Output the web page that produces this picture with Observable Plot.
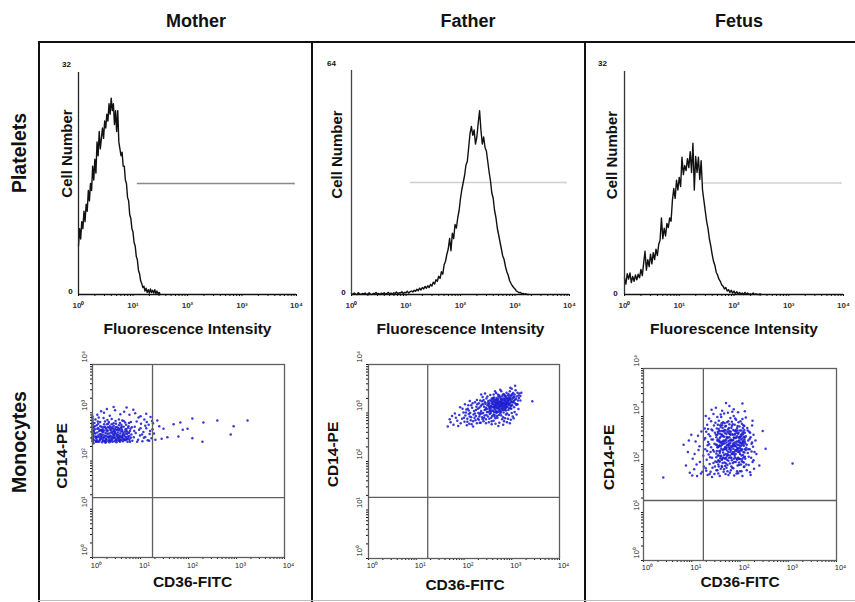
<!DOCTYPE html>
<html><head><meta charset="utf-8">
<script src="https://cdn.jsdelivr.net/npm/d3@7"></script>
<script src="https://cdn.jsdelivr.net/npm/@observablehq/plot@0.6"></script>
<style>
html,body{margin:0;padding:0;background:#fff;}
#fig{position:relative;width:855px;height:602px;overflow:hidden;font-family:"Liberation Sans",Arial,sans-serif;background:#fff;}
.lbl{position:absolute;white-space:nowrap;font-weight:bold;line-height:1;color:#111;}
.ln{position:absolute;background:#111;}
.panel{position:absolute;}
.panel svg{background:transparent;overflow:visible;}
</style></head><body><div id="fig"></div>
<script>
// ---------- DATA ----------
const columns = ["Mother", "Father", "Fetus"];
const rows = ["Platelets", "Monocytes"];
const decadeTicks = [1, 10, 100, 1000, 10000];
const decadeLabels = ["10\u2070", "10\u00b9", "10\u00b2", "10\u00b3", "10\u2074"];
const histMax = [32, 64, 32];
const histTopLabels = ["32", "64", "32"];
const histStartLog = [0, 0, 0];      // first channel, log10 units
const histStepLog = [0.02, 0.025, 0.025]; // channel width, log10 units
const motherCounts = [7,9.5,8,10.5,9.5,12,10.5,13,12,15,13.5,16,15,18.5,16.5,19.5,17.5,22,20,23.5,21,22.5,24,22.5,25,24,26,25,27.5,26,28.3,26.5,27.5,24.5,26.5,23.5,26.5,22,21,20,20.5,18.5,18.5,16.5,16,14,13.5,11.5,11,9.5,9,7.5,7,5.5,5,3.5,3,2,1.6,1,1.2,0.5,0.9,0.3,0.7,0.2,0.8,0.3,0.6,0.2,0.7,0.1,0.5,0.1,0.3,0];
const fatherCounts = [0.3,0,0.4,0.1,0,0.5,0.2,0,0.3,0.1,0.4,0,0.2,0.5,0.1,0,0.3,0.2,0.6,0.1,0.3,0,0.4,0.2,0.5,0.1,0.3,0.6,0.2,0.4,0.1,0.5,0.3,0.7,0.2,0.5,0.4,0.8,0.3,0.6,0.5,0.9,0.4,0.8,1.0,
 0.7,1.2,0.9,1.5,1.1,1.8,1.3,2.0,1.6,2.3,1.8,2.5,2.0,2.9,2.4,3.5,3.0,4.2,3.8,5.2,4.6,6.5,5.8,8.5,9.5,11.5,13,16,12.5,17.5,16,20,19,22,24,27.5,30,32,34,37,38,42,46,48,45.5,47,43,45,49,52.5,47,43,45,42,41,38,35,32.5,29,27.5,24,22,19,17,15,13,11,10,8,6.5,5.5,4,3.2,2.5,2,1.6,1.0,0.8,0.5,0.6,0.2,0.3,0.1,0.2,0,0];
const fetusCounts = [2.4,1.5,3.0,2.2,3.1,1.7,2.6,1.9,2.8,2.1,2.9,2.4,3.6,2.7,4.5,6.2,3.5,5.0,4.0,5.8,4.4,6.0,5.0,6.5,5.6,7.2,7.8,11,8.0,9.5,8.4,10.2,9.6,11,10.5,13.5,15.2,13.8,16.4,15,16.8,15.5,19.7,17.2,18.5,17.8,19.5,18.2,20.5,17.5,21.7,15,19.8,17.5,19.7,16.5,19.2,15,13.5,12,10.5,9.5,8,7,5.8,4.8,4.2,3.2,2.8,2.2,1.9,1.4,1.2,0.8,1.0,0.5,0.7,0.3,0.6,0.2,0.5,0.1,0.4,0.1,0.3,0,0.2,0,0.3,0,0.2,0,0.1,0,0.2,0,0.1,0,0,0.1,0];
const gateFrom = [12, 12, 27.5];
const gateTo = [8900, 8500, 8900];
const gateLevel = [16, 32, 16];
const quadX = [17.8, 17.4, 17.4];
const quadY = [17.4, 18.2, 17.8];
// dot plots: [CD36-FITC, CD14-PE] in hundredths of a decade (log10 x 100)
const motherDots = [[0,241],[0,248],[0,255],[0,262],[0,270],[0,276],[0,284],[0,292],[0,244],[0,258],[0,266],[0,280],[0,251],[0,288],[0,273],
[3,243],[7,251],[11,240],[14,262],[18,247],[21,255],[25,241],[28,268],[31,250],[35,244],[38,259],[42,240],[45,253],[48,246],[52,264],[55,242],[58,257],[61,249],[65,271],[68,243],
[72,256],[75,247],[78,262],[5,266],[9,274],[13,249],[16,281],[20,239],[23,270],[27,258],[30,276],[33,242],[37,265],[40,251],[44,278],[47,260],[50,239],[54,268],[57,252],[60,275],
[63,241],[67,261],[70,250],[74,269],[77,244],[81,255],[2,253],[6,286],[10,259],[15,243],[19,271],[22,248],[26,282],[29,245],[32,263],[36,272],[39,246],[43,267],[46,241],[49,277],
[53,250],[56,263],[59,244],[62,284],[66,254],[69,266],[73,240],[76,279],[80,248],[4,279],[8,246],[12,268],[17,256],[21,244],[24,263],[28,252],[31,285],[34,257],[38,241],[41,270],
[45,262],[48,283],[51,255],[55,274],[58,243],[61,266],[64,258],[68,280],[71,246],[75,272],[79,267],[83,242],[2,270],[7,240],[11,282],[15,265],[19,252],[23,289],[27,246],[30,261],
[34,281],[37,253],[41,244],[44,273],[48,257],[52,247],[55,286],[59,269],[62,252],[66,245],[70,275],[73,260],[77,252],[82,270],[6,257],[13,290],[18,263],[24,276],[29,240],[35,269],
[40,287],[46,249],[51,270],[57,279],[63,247],[69,257],[74,251],[80,281],[9,250],[16,272],[22,260],[26,241],[33,277],[39,263],[43,255],[50,264],[56,245],[65,283],[71,262],[78,240],
[1,246],[4,258],[8,241],[12,253],[16,245],[20,261],[24,249],[27,238],[31,256],[34,248],[37,242],[41,258],[44,247],[47,266],[51,243],[54,254],[57,240],[60,261],[3,262],[6,249],
[10,267],[14,240],[17,251],[21,266],[25,253],[28,244],[32,270],[36,250],[39,268],[42,249],[46,257],[50,252],[53,259],[58,249],[62,262],[64,244],[67,251],[70,266],[72,245],[76,258],
[2,237],[9,243],[15,255],[22,242],[29,264],[35,239],[43,261],[49,243],[56,266],[63,254],[5,272],[12,277],[19,264],[26,271],[33,251],[40,276],[48,270],[54,248],[61,271],[69,244],
[86,249],[88,271],[90,258],[92,282],[95,244],[97,265],[99,253],[101,277],[104,241],[106,260],[108,286],[110,250],[112,268],[115,243],[117,275],[119,256],[121,291],[123,247],[125,266],[87,262],
[93,240],[100,268],[107,248],[113,281],[120,262],[96,290],[103,255],[110,273],[118,242],[124,283],
[10,296],[24,300],[36,294],[47,305],[58,297],[66,302],[77,296],[89,299],[100,293],[44,312],[71,311],[30,308],[85,306],[18,303],[112,298],
[135,284],[148,267],[156,249],[169,276],[179,251],[183,280],[188,265],[198,267],[208,288],[208,247],[229,240],[231,280],[260,284],[288,255],[294,272],[323,284],
[128,257],[131,244],[139,272],[144,246],[126,278]];
const fatherDots = [[166,272],[172,281],[178,276],[183,290],[186,284],[190,296],[193,279],[196,288],[199,301],[175,294],[188,273],[197,309],[181,299],[170,287],[192,312],
[201,282],[203,295],[205,307],[207,288],[209,316],[211,278],[213,300],[215,291],[217,311],[219,283],[221,304],[223,322],[225,294],[227,279],[229,309],[202,318],[206,275],[210,298],[214,285],[218,320],
[222,290],[226,313],[204,301],[208,309],[212,293],[216,277],[220,297],[224,285],[228,318],[230,300],[200,290],[212,325],[219,272],[225,306],[229,288],[207,282],[223,299],[215,316],[227,327],[210,305],
[231,286],[232,311],[233,297],[234,326],[235,280],[236,304],[237,317],[238,291],[239,333],[240,300],[241,283],[242,313],[243,295],[244,322],[245,307],[246,287],[247,330],[248,302],[249,316],[250,293],
[251,325],[252,281],[253,309],[254,298],[255,337],[256,315],[257,290],[258,321],[259,304],[260,329],[231,320],[233,280],[235,314],[237,299],[239,287],[241,327],[243,306],[245,319],[247,296],[249,334],
[251,302],[253,288],[255,312],[257,326],[259,294],[234,300],[238,324],[242,290],[246,311],[250,321],[254,305],[258,283],[236,338],[244,340],[252,317],[256,300],[232,293],[248,308],[240,318],[260,312],
[261,318],[262,297],[263,332],[264,309],[265,322],[266,289],[267,341],[268,315],[269,303],[270,327],[271,311],[272,319],[273,296],[274,336],[275,314],[276,324],[277,302],[278,345],[279,318],[280,309],
[281,328],[282,291],[283,321],[284,313],[285,337],[286,306],[287,324],[288,316],[289,331],[290,299],[261,305],[263,323],[265,312],[267,327],[269,294],[271,338],[273,318],[275,303],[277,330],[279,312],
[281,320],[283,301],[285,326],[287,311],[289,342],[262,338],[264,293],[266,319],[268,331],[270,310],[272,329],[274,305],[276,316],[278,322],[280,334],[282,314],[284,326],[286,320],[288,305],[290,322],
[263,314],[267,302],[271,324],[275,333],[279,327],[283,339],[287,333],[265,345],[269,320],[273,312],[277,320],[281,310],[285,316],[289,320],[262,326],[268,311],[274,323],[280,317],[286,329],[276,348],
[291,313],[292,330],[293,339],[294,318],[295,327],[296,345],[297,310],[298,335],[299,322],[300,350],[301,316],[302,331],[303,341],[304,325],[305,312],[306,338],[307,320],[308,347],[309,329],[310,334],
[311,318],[312,342],[313,326],[314,336],[315,331],[291,325],[293,306],[295,336],[297,352],[299,315],[301,338],[303,322],[305,332],[307,356],[309,317],[292,318],[296,329],[300,328],[304,334],[294,332],
[298,324],[302,322],[306,327],[316,340],[318,335],[343,324],
[252,313],[254,326],[256,308],[258,330],[260,318],[262,312],[264,328],[266,306],[268,322],[270,316],[272,334],[274,314],[276,309],[278,328],[280,322],[282,306],[284,318],[286,335],[288,311],[290,328],
[292,322],[294,310],[296,320],[298,315],[300,338],[253,320],[257,314],[261,331],[265,317],[269,329],[273,307],[277,315],[281,337],[285,309],[289,314],[293,326],[297,331],[255,303],[259,323],[263,302],
[267,315],[271,302],[275,322],[279,305],[283,330],[287,318],[291,336],[295,316],[299,309],[270,321],
[262,284],[266,278],[270,290],[274,280],[278,295],[282,276],[286,289],[290,281],[294,296],[298,286],[302,293],[306,302],[310,297],[314,308],[264,296],[272,273],[280,287],[288,297],[296,279],[304,289],
[258,277],[276,299],[292,288],[300,300],[284,283],[268,300],[312,318],[318,326],[320,342],[246,279]];
const fetusDots = [[83,241],[88,198],[92,226],[96,183],[99,262],[102,212],[105,190],[108,248],[111,176],[114,230],[117,205],[120,269],[122,185],[124,218],[126,252],[41,173],[94,250],[101,177],[110,200],[116,238],[119,181],[125,196],[127,275],[113,260],[106,222],
[128,232],[129,192],[130,268],[131,210],[132,283],[133,178],[134,247],[135,221],[136,296],[137,201],[138,259],[139,185],[140,236],[141,273],[142,214],[143,193],[144,252],[145,305],[146,227],[147,180],
[148,266],[149,206],[150,241],[128,255],[130,187],[132,228],[134,274],[136,242],[138,215],[140,290],[142,174],[144,230],[146,281],[148,196],[150,262],[129,301],[133,240],[137,180],[141,252],[145,203],
[149,287],[135,263],[139,226],[143,271],[147,243],
[151,223],[152,275],[153,188],[154,252],[155,209],[156,291],[157,238],[158,176],[159,264],[160,217],[161,247],[162,197],[163,282],[164,230],[165,259],[166,185],[167,306],[168,244],[169,212],[170,271],
[171,233],[172,193],[173,288],[174,255],[175,220],[176,178],[177,265],[178,241],[179,202],[180,297],[151,257],[153,236],[155,181],[157,270],[159,228],[161,299],[163,211],[165,243],[167,190],[169,279],
[171,252],[173,218],[175,308],[177,236],[179,264],[152,205],[154,283],[156,248],[158,224],[160,191],[162,262],[164,276],[166,214],[168,232],[170,180],[172,258],[174,199],[176,249],[178,284],[180,226],
[151,188],[155,265],[159,246],[163,195],[167,258],[171,214],[175,273],[179,183],[153,299],[157,206],[161,233],[165,288],[169,197],[173,240],[177,214],[152,241],[158,255],[164,203],[170,250],[176,226],
[154,219],[160,278],[166,269],[172,235],[178,257],[156,196],[162,245],[168,286],[174,186],[180,245],
[181,268],[182,214],[183,237],[184,193],[185,284],[186,251],[187,222],[188,177],[189,262],[190,239],[191,205],[192,293],[193,248],[194,186],[195,271],[196,226],[197,256],[198,199],[199,279],[200,234],
[201,211],[202,262],[203,186],[204,245],[205,295],[206,220],[207,268],[208,195],[209,252],[210,232],[181,230],[183,289],[185,203],[187,256],[189,218],[191,272],[193,181],[195,241],[197,288],[199,212],
[201,258],[203,229],[205,176],[207,243],[209,280],[182,250],[184,263],[186,192],[188,241],[190,296],[192,228],[194,259],[196,182],[198,250],[200,271],[202,200],[204,285],[206,249],[208,215],[210,266],
[181,188],[185,240],[189,283],[193,212],[197,234],[201,290],[205,254],[209,196],[183,222],[187,301],[191,255],[195,198],[199,246],[203,271],[207,226],[182,276],[188,205],[194,235],[200,186],[206,263],
[184,310],[190,264],[196,214],[202,244],[208,239],[186,233],[192,270],[198,228],[204,207],[210,248],
[211,212],[212,259],[213,235],[214,188],[215,276],[216,224],[217,250],[218,199],[219,268],[220,232],[221,184],[222,257],[223,214],[224,243],[225,281],[226,205],[227,237],[228,262],[229,191],[230,226],
[212,298],[214,241],[216,271],[218,216],[220,253],[222,178],[224,227],[226,291],[213,200],[217,232],[221,266],[225,246],[228,209],[232,250],[234,222],
[150,318],[163,312],[178,322],[187,315],[196,309],[205,327],[171,328],[160,304],[210,311],[141,314],
[309,202],[253,233],[247,270],[240,198],
[151,215],[153,262],[155,238],[157,250],[159,213],[161,270],[163,241],[165,225],[167,248],[169,265],[171,202],[173,229],[175,256],[177,244],[179,219],[181,252],[183,209],[185,262],[187,238],[189,246],
[191,222],[193,266],[195,232],[197,212],[199,255],[201,238],[203,219],[205,265],[207,247],[209,225],[152,228],[154,268],[156,219],[158,240],[160,258],[162,210],[164,248],[166,232],[168,272],[170,222],
[172,246],[174,268],[176,208],[178,232],[180,262],[182,238],[184,222],[186,272],[188,255],[190,214],[192,244],[194,210],[196,264],[198,240],[200,222],[202,252],[204,232],[206,205],[208,258],[210,216],
[153,250],[157,228],[161,218],[165,270],[169,236],[173,210],[177,276],[181,214],[185,226],[189,270],[193,230],[197,266],[201,246],[205,212],[209,272],[155,200],[159,282],[163,262],[167,220],[171,280],
[175,240],[179,250],[183,280],[187,212],[191,238],[195,280],[199,226],[203,260],[207,282],[211,244],[154,236],[158,206],[162,286],[166,250],[170,236],[174,222],[178,270],[182,196],[186,244],[190,230],
[194,276],[198,204],[202,230],[206,276],[210,256],[156,274],[164,214],[172,264],[180,234],[188,226],[196,248],[204,240],[212,230],[160,238],[168,204],[176,290],[184,250],[192,256],[200,258],[208,204]];

// ---------- LAYOUT / STYLE ----------
const FONT = '"Liberation Sans", Arial, Helvetica, sans-serif';
const histLayout = [
 {left:40, top:45, w:270, h:295, ml:38, mr:14, mt:27, mb:46, gate:"#8a8a8a", axis:"#222", topDx:-12, topDy:-8, zeroDx:-8, zeroDy:-3, cellDx:-11, cellDy:-30},
 {left:313, top:45, w:271, h:295, ml:38, mr:15, mt:25, mb:46, gate:"#cfcfcf", axis:"#444", topDx:-20, topDy:-7, zeroDx:-8, zeroDy:-2, cellDx:-14, cellDy:-28},
 {left:587, top:45, w:268, h:295, ml:37, mr:12, mt:26, mb:46, gate:"#d2d2d2", axis:"#333", topDx:-22, topDy:-8, zeroDx:-9, zeroDy:-1, cellDx:-12, cellDy:-28}
];
const scatLayout = [
 {left:40, top:345, w:270, h:255, ml:52, mr:26, mt:19, mb:43, xlDy:8, ylDx:-8, cdDy:25, cdDx:4, cpDx:-30, cpDy:-5},
 {left:313, top:345, w:271, h:255, ml:55, mr:25, mt:19, mb:42, xlDy:7, ylDx:-8.5, cdDy:27, cdDx:1, cpDx:-35, cpDy:-7},
 {left:587, top:345, w:268, h:255, ml:56, mr:19, mt:23, mb:40, xlDy:7, ylDx:-6.5, cdDy:22, cdDx:0, cpDx:-34, cpDy:-7}
];
const minorTicks = [];
for (let e = 0; e < 4; e++) for (let m = 1; m < 10; m++) minorTicks.push(m * 10 ** e);
minorTicks.push(10000);
const tickObjs = decadeTicks.map((v, k) => ({v, t: decadeLabels[k]}));

const fig = document.getElementById("fig");
function label(text, cx, cy, size, rot) {
  const d = document.createElement("div");
  d.className = "lbl"; d.textContent = text;
  d.style.left = cx + "px"; d.style.top = cy + "px"; d.style.fontSize = size + "px";
  d.style.transform = `translate(-50%,-50%) rotate(${rot || 0}deg)`;
  fig.appendChild(d);
}
function line(x, y, w, h, c) {
  const d = document.createElement("div");
  d.className = "ln";
  Object.assign(d.style, {left: x + "px", top: y + "px", width: w + "px", height: h + "px"});
  if (c) d.style.background = c;
  fig.appendChild(d);
}
function place(svg, L) {
  const d = document.createElement("div");
  d.className = "panel";
  d.style.left = L.left + "px"; d.style.top = L.top + "px";
  d.appendChild(svg);
  fig.appendChild(d);
}

function histogram(i) {
  const counts = [motherCounts, fatherCounts, fetusCounts][i];
  const data = counts.map((c, k) => ({x: 10 ** (histStartLog[i] + k * histStepLog[i]), y: c}));
  const L = histLayout[i];
  return Plot.plot({
    width: L.w, height: L.h, marginLeft: L.ml, marginRight: L.mr, marginTop: L.mt, marginBottom: L.mb,
    style: {fontFamily: FONT, background: "transparent", color: "#111", overflow: "visible"},
    x: {type: "log", domain: [1, 10000], ticks: minorTicks, tickSize: 2, tickFormat: () => "", label: null},
    y: {domain: [0, histMax[i]], axis: null},
    marks: [
      Plot.ruleY([{y: gateLevel[i], x1: gateFrom[i], x2: gateTo[i]}], {y: "y", x1: "x1", x2: "x2", stroke: L.gate, strokeWidth: 1.3}),
      Plot.dot([{x: gateTo[i], y: gateLevel[i]}], {x: "x", y: "y", r: 1.1, fill: L.gate}),
      Plot.line(data, {x: "x", y: "y", stroke: "#111", strokeWidth: 1.4}),
      Plot.ruleX([{x: 1, y1: 0, y2: histMax[i]}], {x: "x", y1: "y1", y2: "y2", stroke: L.axis, strokeWidth: 1.3}),
      Plot.ruleY([0], {stroke: "#111", strokeWidth: 1.6}),
      Plot.text(tickObjs, {x: "v", text: "t", frameAnchor: "bottom", lineAnchor: "middle", dy: 11, fontSize: 8, fontWeight: "bold", fill: "#333"}),
      Plot.text([{x: 1, y: histMax[i], t: histTopLabels[i]}], {x: "x", y: "y", text: "t", dx: L.topDx, dy: L.topDy, fontSize: 8, fontWeight: "bold"}),
      Plot.text([{x: 1, y: 0, t: "0"}], {x: "x", y: "y", text: "t", dx: L.zeroDx, dy: L.zeroDy, fontSize: 8, fontWeight: "bold"}),
      Plot.text(["Fluorescence Intensity"], {frameAnchor: "bottom", lineAnchor: "middle", dy: 35, fontSize: 15.5, fontWeight: "bold"}),
      Plot.text(["Cell Number"], {frameAnchor: "left", textAnchor: "middle", lineAnchor: "middle", dx: L.cellDx, dy: L.cellDy, rotate: -90, fontSize: 15, fontWeight: "bold"})
    ]
  });
}

function scatter(i) {
  const pts = [motherDots, fatherDots, fetusDots][i].map(([a, b]) => ({x: 10 ** (a / 100), y: 10 ** (b / 100)}));
  const L = scatLayout[i];
  return Plot.plot({
    width: L.w, height: L.h, marginLeft: L.ml, marginRight: L.mr, marginTop: L.mt, marginBottom: L.mb,
    style: {fontFamily: FONT, background: "transparent", color: "#111", overflow: "visible"},
    x: {type: "log", domain: [1, 10000], ticks: minorTicks, tickSize: 2, tickFormat: () => "", label: null},
    y: {type: "log", domain: [1, 10000], ticks: minorTicks, tickSize: 2, tickFormat: () => "", label: null},
    marks: [
      Plot.dot(pts, {x: "x", y: "y", r: 1.25, fill: "#1c1cd0", fillOpacity: 0.88}),
      Plot.ruleX([quadX[i]], {stroke: "#5f5f5f", strokeWidth: 1.3}),
      Plot.ruleY([quadY[i]], {stroke: "#5f5f5f", strokeWidth: 1.3}),
      Plot.frame({stroke: "#5f5f5f", strokeWidth: 1.3}),
      Plot.text(tickObjs, {x: "v", text: "t", frameAnchor: "bottom", lineAnchor: "middle", dy: L.xlDy, dx: 4, fontSize: 7.5, fill: "#222"}),
      Plot.text(tickObjs, {y: "v", text: "t", frameAnchor: "left", textAnchor: "start", lineAnchor: "middle", dx: L.ylDx, dy: -2, rotate: -90, fontSize: 7.5, fill: "#222"}),
      Plot.text(["CD36-FITC"], {frameAnchor: "bottom", lineAnchor: "middle", dx: L.cdDx, dy: L.cdDy, fontSize: 15.5, fontWeight: "bold"}),
      Plot.text(["CD14-PE"], {frameAnchor: "left", textAnchor: "middle", lineAnchor: "middle", dx: L.cpDx, dy: L.cpDy, rotate: -90, fontSize: 15.5, fontWeight: "bold"})
    ]
  });
}

// frame lines
line(38, 41, 817, 2);
line(38, 41, 2, 561);
line(311, 41, 2, 561);
line(584, 41, 2, 561);
line(38, 600, 817, 1, "#bdbdbd");

for (let i = 0; i < 3; i++) {
  place(histogram(i), histLayout[i]);
  place(scatter(i), scatLayout[i]);
}
// titles and row labels
const titleX = [196, 468, 739];
columns.forEach((c, i) => label(c, titleX[i], 21, 18));
label(rows[0], 20, 153, 19.5, -90);
label(rows[1], 20, 442, 19.5, -90);
</script></body></html>
